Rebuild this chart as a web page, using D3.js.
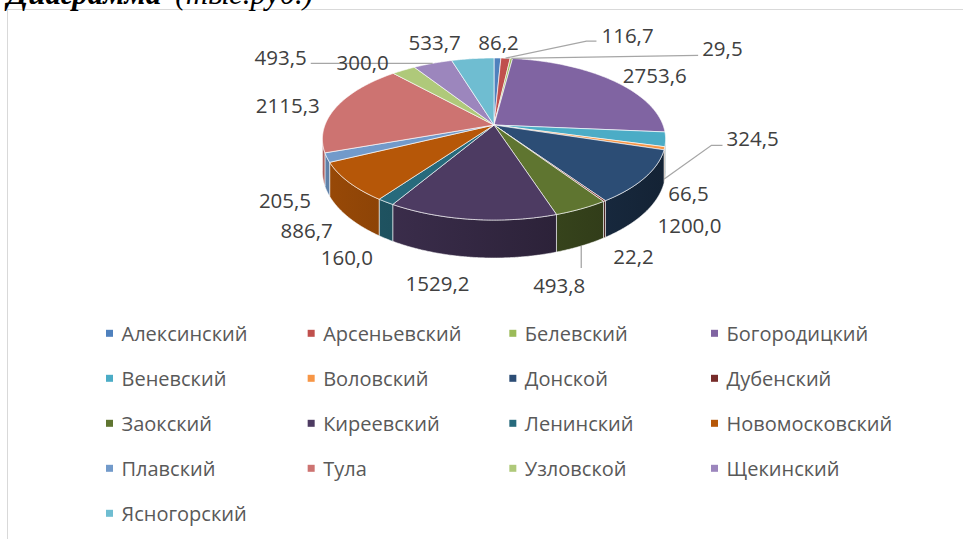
<!DOCTYPE html>
<html>
<head>
<meta charset="utf-8">
<script src="https://cdn.jsdelivr.net/npm/d3@7"></script>
<style>
  body { margin: 0; background: #fff; }
  svg { display: block; }
</style>
</head>
<body>
<svg id="chart" width="963" height="539"></svg>
<script>
"use strict";

const districts = ["Алексинский", "Арсеньевский", "Белевский", "Богородицкий",
                   "Веневский", "Воловский", "Донской", "Дубенский",
                   "Заокский", "Киреевский", "Ленинский", "Новомосковский",
                   "Плавский", "Тула", "Узловской", "Щекинский",
                   "Ясногорский"];
const volumes = [86.2, 116.7, 29.5, 2753.6,
                 324.5, 66.5, 1200.0, 22.2,
                 493.8, 1529.2, 160.0, 886.7,
                 205.5, 2115.3, 300.0, 493.5,
                 533.7];
const colors = ["#4F81BD", "#C0504D", "#9BBB59", "#8064A2",
                "#4BACC6", "#F79646", "#2C4D75", "#772C2A",
                "#5F7530", "#4D3B62", "#276A7C", "#B65708",
                "#729ACA", "#CD7371", "#AFC97A", "#9C86BD",
                "#6FBDD1"];

// label shift from the slice's outer rim point (hand placed, like Excel)
const labelNudge = [[1, -16], [122, -23], [211, -10], [42, -6],
                    [87, -1], [24, 45], [44, 48], [29, 55],
                    [-22, 76], [-34, 64], [-39, 55], [-42, 48],
                    [-42, 42], [-49, -2], [-41, -8], [-152, -6],
                    [-38, -17]];

const svg = d3.select("#chart");
const width = +svg.attr("width");

// chart frame (cut by the page on the right and bottom)
svg.append("rect")
   .attr("x", 7.5).attr("y", 9.5)
   .attr("width", width + 20).attr("height", 600)
   .attr("fill", "none")
   .attr("stroke", "#d9d9d9");

// caption above the frame, mostly clipped
svg.append("text")
   .attr("x", 7).attr("y", 4)
   .attr("font-family", "Liberation Serif, serif")
   .attr("font-size", 31)
   .attr("font-style", "italic")
   .attr("fill", "#000")
   .html('<tspan font-weight="bold">Диаграмма</tspan><tspan dx="14">(тыс.руб.)</tspan>');

// 3d pie projection
const cx = 494, cy = 125;
const rx = 169, ry = 78.6;
const tilt = 0.173;   // perspective
const thick = 31.4;

function project(theta, r, depth) {
    const u = Math.sin(theta), v = -Math.cos(theta);
    const s = 1 / (1 - tilt * r * v);
    return [cx + rx * r * u * s, cy + ry * r * v * s + depth * thick * s];
}

function arcPoints(a0, a1, depth) {
    const n = Math.max(2, Math.ceil((a1 - a0) / 0.008));
    const pts = [];
    for (let k = 0; k <= n; k++) {
        pts.push(project(a0 + (a1 - a0) * k / n, 1, depth));
    }
    return pts;
}

const line = d3.line();

const pie = d3.pie().sort(null).value(d => d);
const slices = pie(volumes);

// side walls, only front half is visible
const wallFrom = Math.acos(-tilt);
const wallTo = 2 * Math.PI - wallFrom;

const defs = svg.append("defs");
slices.forEach((d, i) => {
    const c = d3.color(colors[i]);
    const g = defs.append("linearGradient")
        .attr("id", "wall" + i)
        .attr("gradientUnits", "userSpaceOnUse")
        .attr("x1", cx - rx).attr("x2", cx + rx)
        .attr("y1", 0).attr("y2", 0);
    g.append("stop").attr("offset", 0).attr("stop-color", c.darker(0.5));
    g.append("stop").attr("offset", 1).attr("stop-color", c.darker(2.2));
});

const walls = svg.append("g");
slices.forEach((d, i) => {
    const a0 = Math.max(d.startAngle, wallFrom);
    const a1 = Math.min(d.endAngle, wallTo);
    if (a1 <= a0) return;
    const pts = arcPoints(a0, a1, 0).concat(arcPoints(a0, a1, 1).reverse());
    walls.append("path")
         .attr("d", line(pts) + "Z")
         .attr("fill", "url(#wall" + i + ")")
         .attr("stroke", "#fff")
         .attr("stroke-opacity", 0.7)
         .attr("stroke-width", 0.8);
});

// top faces
const tops = svg.append("g");
slices.forEach((d, i) => {
    const pts = [[cx, cy]].concat(arcPoints(d.startAngle, d.endAngle, 0));
    tops.append("path")
        .attr("d", line(pts) + "Z")
        .attr("fill", colors[i])
        .attr("stroke", "#fff")
        .attr("stroke-opacity", 0.8)
        .attr("stroke-width", 0.8)
        .attr("stroke-linejoin", "round");
});

// data labels
const fmt = d3.formatLocale({decimal: ",", thousands: " ", grouping: [3], currency: ["", ""]})
              .format(".1f");

const labelG = svg.append("g")
    .attr("font-family", "Open Sans, sans-serif")
    .attr("font-size", 20.5)
    .attr("fill", "#404040");

const boxes = slices.map((d, i) => {
    const mid = (d.startAngle + d.endAngle) / 2;
    const rim = project(mid, 1, 0);
    const x = rim[0] + labelNudge[i][0];
    const y = rim[1] + labelNudge[i][1];
    const t = labelG.append("text")
        .attr("x", x).attr("y", y)
        .attr("text-anchor", "middle")
        .attr("dominant-baseline", "central")
        .text(fmt(volumes[i]));
    const w = t.node().getComputedTextLength();
    return {mid, rim, x, y, left: x - w / 2, right: x + w / 2};
});

// leader lines
function leaders() {
    const b = boxes;
    const out = [];
    out.push([b[1].rim, [b[1].left - 15, b[1].y + 6], [b[1].left - 5, b[1].y + 6]]);
    out.push([b[2].rim, [b[2].left - 4, b[2].y + 7]]);
    const w = project(b[4].mid + 0.12, 1, 0.9);
    out.push([w, [b[4].left - 15, b[4].y + 7], [b[4].left - 4, b[4].y + 7]]);
    const z = project(b[8].mid, 1, 1);
    out.push([z, [z[0], z[1] + 22]]);
    out.push([[b[15].right + 4, b[15].rim[1]], b[15].rim]);
    return out;
}

svg.append("g").selectAll("path")
   .data(leaders())
   .join("path")
   .attr("d", d => line(d))
   .attr("fill", "none")
   .attr("stroke", "#a6a6a6")
   .attr("stroke-width", 1.3);

labelG.raise();

// legend
const colX = d3.scaleLinear().domain([0, 3]).range([106, 711]);
const rowY = d3.scaleLinear().domain([0, 1]).range([333.3, 378.3]);

const legend = svg.append("g")
    .attr("font-family", "Open Sans, sans-serif")
    .attr("font-size", 20)
    .attr("fill", "#595959");

const items = legend.selectAll("g")
    .data(districts)
    .join("g")
    .attr("transform", (d, i) => "translate(" + colX(i % 4) + "," + rowY(Math.floor(i / 4)) + ")");

items.append("rect")
     .attr("x", 0).attr("y", -3.5)
     .attr("width", 7).attr("height", 7)
     .attr("fill", (d, i) => colors[i]);

items.append("text")
     .attr("x", 15.5)
     .attr("dominant-baseline", "central")
     .text(d => d);
</script>
</body>
</html>
